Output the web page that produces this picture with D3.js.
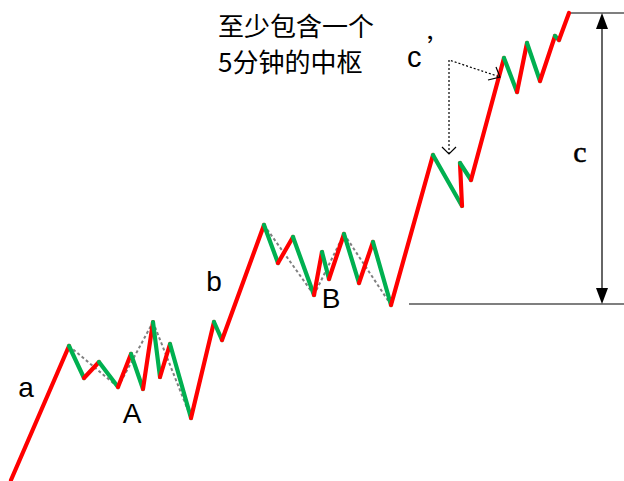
<!DOCTYPE html>
<html><head><meta charset="utf-8">
<script src="https://cdn.jsdelivr.net/npm/d3@7"></script>
<style>body{margin:0;background:#fff}svg{display:block}</style>
</head><body><svg id="c" width="624" height="481"></svg>
<script>
// price path: time (x) and price (y, upward)
const times  = [11,69,84,99,118,131,143,153,160,170,191,214,222,264,278,293,314,322,329,344,359,373,391,433,462,460,471,504,517,527,540,555,559,569];
const prices = [1,135,103,119,94,127,92,159,104,137,63,159,141,256,218,244,186,229,202,247,198,239,176,326,275,318,301,423,389,438,400,445,441,468];
// pivot (zhongshu) dotted connections by point index
const pivotLinks = [[1,4],[4,7],[7,10],[13,16],[16,19],[19,22]];
// wave labels
const waveLabels = [
  {text:"a", t:26, p:84},
  {text:"A", t:132, p:58},
  {text:"b", t:214, p:190},
  {text:"B", t:331, p:173}
];
const noteLines = ["至少包含一个","5分钟的中枢"];
const cHigh = 468, cLow = 177;

const svg = d3.select("#c");
const x = d3.scaleLinear().domain([0,624]).range([0,624]);
const y = d3.scaleLinear().domain([0,481]).range([481,0]);
const pts = times.map((t,i)=>({t, p:prices[i]}));
const RED="#ff0000", GREEN="#00b050";

// horizontal reference lines
svg.append("line").attr("x1",x(569)).attr("x2",x(624)).attr("y1",y(cHigh)).attr("y2",y(cHigh))
  .attr("stroke","#000").attr("stroke-width",1.2);
svg.append("line").attr("x1",x(409)).attr("x2",x(624)).attr("y1",y(cLow)).attr("y2",y(cLow))
  .attr("stroke","#000").attr("stroke-width",1.2);

// vertical double arrow
const ax = x(602);
svg.append("line").attr("x1",ax).attr("x2",ax).attr("y1",y(cHigh)+10).attr("y2",y(cLow)-10)
  .attr("stroke","#666").attr("stroke-width",2);
svg.append("path").attr("d",`M${ax},${y(cHigh)} L${ax-6},${y(cHigh)+16} L${ax+6},${y(cHigh)+16} Z`).attr("fill","#000");
svg.append("path").attr("d",`M${ax},${y(cLow)} L${ax-6},${y(cLow)-16} L${ax+6},${y(cLow)-16} Z`).attr("fill","#000");
svg.append("text").attr("x",x(580)).attr("y",y(319)).attr("text-anchor","middle")
  .attr("font-family","Liberation Serif, Times New Roman, serif").attr("font-size",30)
  .attr("stroke","#000").attr("stroke-width",0.5).text("c");

// pivot dotted lines
pivotLinks.forEach(([a,b])=>{
  svg.append("line").attr("x1",x(pts[a].t)).attr("y1",y(pts[a].p)).attr("x2",x(pts[b].t)).attr("y2",y(pts[b].p))
    .attr("stroke","#808080").attr("stroke-width",2).attr("stroke-dasharray","3,2.5");
});

// path segments
svg.append("g").selectAll("line").data(d3.pairs(pts)).join("line")
  .attr("x1",d=>x(d[0].t)).attr("y1",d=>y(d[0].p)).attr("x2",d=>x(d[1].t)).attr("y2",d=>y(d[1].p))
  .attr("stroke",d=>d[1].p>d[0].p?RED:GREEN).attr("stroke-width",4.2).attr("stroke-linecap","round");

// labels
svg.append("g").selectAll("text").data(waveLabels).join("text")
  .attr("x",d=>x(d.t)).attr("y",d=>y(d.p)).attr("text-anchor","middle")
  .attr("font-family","Liberation Sans, Arial, sans-serif").attr("font-size",28).attr("fill","#000").text(d=>d.text);

// c' label and dotted arrows
svg.append("text").attr("x",x(407)).attr("y",y(414)).attr("font-family","Liberation Sans, Arial, sans-serif")
  .attr("font-size",29).text("c");
svg.append("text").attr("x",x(427)).attr("y",y(423)).attr("font-family","Noto Sans CJK SC, sans-serif")
  .attr("font-size",26).text("’");
const cx0 = x(449), cy0 = y(421);
const tip1 = [x(449), y(327)], tip2 = [x(500), y(404)];
svg.append("path").attr("d",`M${tip1[0]},${tip1[1]} L${cx0},${cy0} L${tip2[0]},${tip2[1]}`)
  .attr("fill","none").attr("stroke","#000").attr("stroke-width",1.2).attr("stroke-dasharray","2,2");
svg.append("path").attr("d",`M${tip1[0]-7},${tip1[1]-7} L${tip1[0]},${tip1[1]} L${tip1[0]+7},${tip1[1]-7}`)
  .attr("fill","none").attr("stroke","#000").attr("stroke-width",1.2);
svg.append("path").attr("d",`M${tip2[0]-4},${tip2[1]-10} L${tip2[0]},${tip2[1]} L${tip2[0]-12},${tip2[1]+3}`)
  .attr("fill","none").attr("stroke","#000").attr("stroke-width",1.2);

// note text
svg.append("g").selectAll("text").data(noteLines).join("text")
  .attr("x",x(218)).attr("y",(d,i)=>y(445)+i*36)
  .attr("font-family","Noto Sans CJK SC, sans-serif").attr("font-size",26).attr("fill","#000").text(d=>d);
</script></body></html>
